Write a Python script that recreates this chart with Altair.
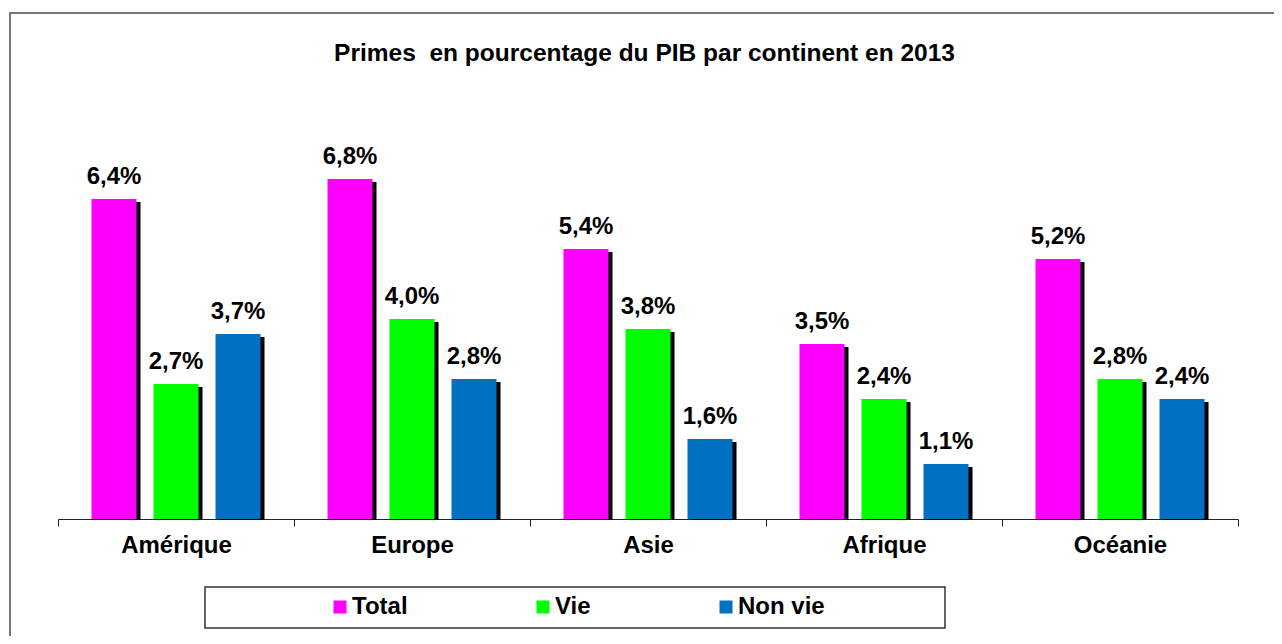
import altair as alt
import pandas as pd

continents = ["Amérique", "Europe", "Asie", "Afrique", "Océanie"]
series = ["Total", "Vie", "Non vie"]
total = [6.4, 6.8, 5.4, 3.5, 5.2]
vie = [2.7, 4.0, 3.8, 2.4, 2.8]
non_vie = [3.7, 2.8, 1.6, 1.1, 2.4]
colors = ["#FF00FF", "#00FF00", "#0070C0"]
title_text = "Primes\u00a0 en pourcentage du PIB par continent en 2013"

rows = []
for i, c in enumerate(continents):
    for s, vals in zip(series, [total, vie, non_vie]):
        v = vals[i]
        rows.append({"continent": c, "serie": s, "value": v,
                     "label": f"{v:.1f}%".replace(".", ",")})
df = pd.DataFrame(rows)

FONT = "Liberation Sans"
W, H = 1180, 400

xs = alt.X("continent:N", sort=continents, title=None,
           scale=alt.Scale(paddingInner=0, paddingOuter=0),
           axis=alt.Axis(labelAngle=0, labelFontSize=24, labelFontWeight="bold",
                         labelColor="black", domainColor="#222", tickColor="#222",
                         tickSize=7, tickBand="extent", labelPadding=7,
                         grid=False))
ys = alt.Y("value:Q", scale=alt.Scale(domain=[0, 8]), axis=None)

def xoff(rng):
    return alt.XOffset("serie:N", sort=series,
                       scale=alt.Scale(type="band", domain=series, range=rng,
                                       paddingInner=0.274, paddingOuter=0.54))

base = alt.Chart(df)

shadow = base.mark_bar(color="black", yOffset=3, y2Offset=1).encode(
    x=xs, xOffset=xoff([4, 240]), y=ys, y2=alt.datum(0)
)

bars = base.mark_bar().encode(
    x=xs, xOffset=xoff([0, 236]), y=ys, y2=alt.datum(0),
    color=alt.Color("serie:N", sort=series,
                    scale=alt.Scale(domain=series, range=colors),
                    legend=alt.Legend(title=None, orient="none", direction="horizontal",
                                      legendX=270, legendY=476, symbolType="square",
                                      symbolSize=169, symbolStrokeWidth=0,
                                      labelFontSize=24, labelFontWeight="bold",
                                      labelColor="black", labelOffset=0,
                                      columnPadding=123, padding=0))
)

labels = base.mark_text(fontSize=24, fontWeight="bold", color="black",
                        baseline="alphabetic", dy=-15).encode(
    x=xs, xOffset=xoff([0, 236]), y=ys, text="label:N"
)

frame_df = pd.DataFrame({"a": [0]})
legend_box = alt.Chart(frame_df).mark_rect(fill=None, stroke="#333", strokeWidth=1.5).encode(
    x=alt.value(147), x2=alt.value(887), y=alt.value(468), y2=alt.value(509)
)
outer = alt.Chart(frame_df).mark_rect(fill=None, stroke="#777", strokeWidth=2).encode(
    x=alt.value(-48), x2=alt.value(1500), y=alt.value(-106), y2=alt.value(900)
)
title = alt.Chart(frame_df).mark_text(fontSize=24.5, fontWeight="bold", color="black",
                                      align="center", baseline="alphabetic").encode(
    x=alt.value(586.5), y=alt.value(-58), text=alt.value(title_text)
)

chart = alt.layer(outer, shadow, bars, labels, legend_box, title).resolve_scale(
    xOffset="independent"
).properties(
    width=W, height=H,
    autosize=alt.AutoSizeParams(type="none"),
    padding={"left": 50, "top": 111, "right": 36, "bottom": 117},
).configure(font=FONT).configure_view(stroke=None)

chart.save("out.html", embed_options={"renderer": "svg", "actions": False})
